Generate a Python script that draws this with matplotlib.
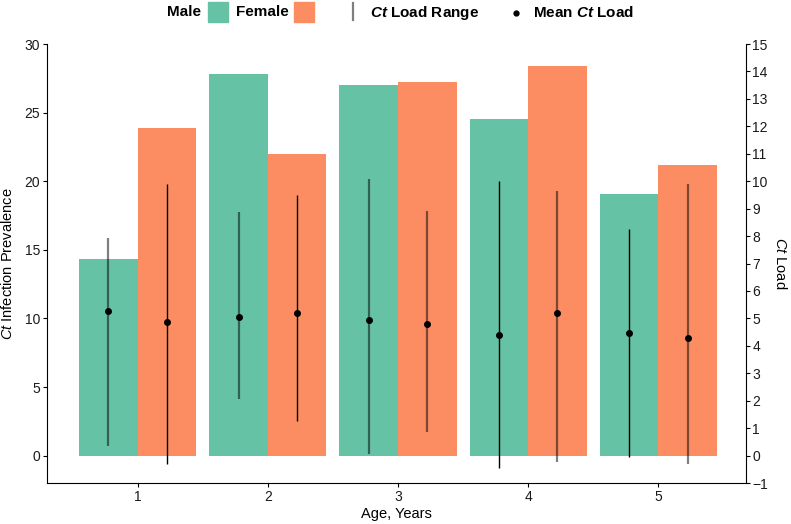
import numpy as np
import matplotlib
matplotlib.use("Agg")
import matplotlib.pyplot as plt
from matplotlib.patches import Rectangle
from matplotlib.lines import Line2D

plt.rcParams['font.family'] = ['Liberation Sans', 'DejaVu Sans']
plt.rcParams['mathtext.fontset'] = 'custom'
plt.rcParams['mathtext.rm'] = 'Liberation Sans'
plt.rcParams['mathtext.it'] = 'Liberation Sans:italic'
plt.rcParams['mathtext.bf'] = 'Liberation Sans:bold'
plt.rcParams['mathtext.bfit'] = 'Liberation Sans:italic:bold'

# données
ages = [1, 2, 3, 4, 5]
male_prev = [14.3, 27.8, 27.0, 24.5, 19.1]
female_prev = [23.9, 22.0, 27.2, 28.4, 21.2]

male_mean = [5.27, 5.04, 4.96, 4.41, 4.48]
male_min = [0.35, 2.07, 0.06, -0.46, -0.06]
male_max = [7.92, 8.89, 10.08, 10.01, 8.26]
female_mean = [4.88, 5.21, 4.79, 5.19, 4.29]
female_min = [-0.30, 1.28, 0.86, -0.22, -0.30]
female_max = [9.90, 9.50, 8.91, 9.65, 9.89]

# transparence des traits (style)
male_alpha = [0.5, 0.5, 0.5, 1.0, 1.0]
female_alpha = [1.0, 1.0, 0.5, 0.5, 0.5]

c_male = '#66C2A5'
c_female = '#FC8D62'
W, H = 791, 524

fig = plt.figure(figsize=(W / 100, H / 100), dpi=100)
ax = fig.add_axes([47.3 / W, 1 - 483.1 / H, (745.5 - 47.3) / W, (483.1 - 44) / H])
ax2 = ax.twinx()

x = np.array(ages, dtype=float)
bw = 0.45
ax.bar(x - bw / 2, male_prev, width=bw, color=c_male, linewidth=0)
ax.bar(x + bw / 2, female_prev, width=bw, color=c_female, linewidth=0)

for i in range(len(ages)):
    for dx, lo, hi, mu, a in [(-bw / 2, male_min[i], male_max[i], male_mean[i], male_alpha[i]),
                              (bw / 2, female_min[i], female_max[i], female_mean[i], female_alpha[i])]:
        lw = 1.6 if a < 1 else 1.0
        ax2.plot([x[i] + dx, x[i] + dx], [lo, hi], color='black', alpha=a, lw=lw,
                 solid_capstyle='butt')
        ax2.plot(x[i] + dx, mu, 'o', color='black', ms=4)

ax.set_xlim(0.305, 5.67)
ax.set_ylim(-2, 30)
ax2.set_ylim(-1, 15)
ax.set_xticks(ages)
ax.set_yticks(np.arange(0, 31, 5))
ax2.set_yticks(np.arange(-1, 16, 1))

for a in (ax, ax2):
    a.spines['top'].set_visible(False)
    a.tick_params(length=3, width=0.8, labelsize=10, colors='black', labelcolor='#1a1a1a', pad=2)
ax.spines['right'].set_visible(False)
ax2.spines['left'].set_visible(False)
ax2.spines['bottom'].set_visible(False)

ax.set_xlabel('Age, Years', fontsize=10.5, labelpad=2)
ax.set_ylabel(r'$\mathit{Ct}$ Infection Prevalence', fontsize=10.5, labelpad=7)
ax2.set_ylabel(r'$\mathit{Ct}$ Load', fontsize=10.5, rotation=-90, labelpad=14)

# légende manuelle en haut
def px(xp, yp):
    return xp / W, 1 - yp / H

fs = 11
fig.text(*px(166.7, 12.5), 'Male', fontsize=fs, fontweight='bold', va='center', ha='left')
fig.patches.append(Rectangle(px(207.5, 21.7), 20 / W, 20 / H, transform=fig.transFigure,
                             color=c_male, figure=fig))
fig.text(*px(236, 12.5), 'Female', fontsize=fs, fontweight='bold', va='center', ha='left')
fig.patches.append(Rectangle(px(294, 21.7), 20 / W, 20 / H, transform=fig.transFigure,
                             color=c_female, figure=fig))
fig.lines.append(Line2D([352.7 / W] * 2, [1 - 3.3 / H, 1 - 20 / H], transform=fig.transFigure,
                        color='black', alpha=0.5, lw=1.6, figure=fig))
fig.text(*px(370, 12.5), r'$\mathbfit{Ct}$ Load Range', fontsize=fs, fontweight='bold',
         va='center', ha='left')
fig.lines.append(Line2D([516 / W], [1 - 13 / H], transform=fig.transFigure, marker='o',
                        color='black', ms=3.5, figure=fig))
fig.text(*px(532.7, 12.5), r'Mean $\mathbfit{Ct}$ Load', fontsize=fs, fontweight='bold',
         va='center', ha='left')

fig.savefig('out.png', dpi=100)
